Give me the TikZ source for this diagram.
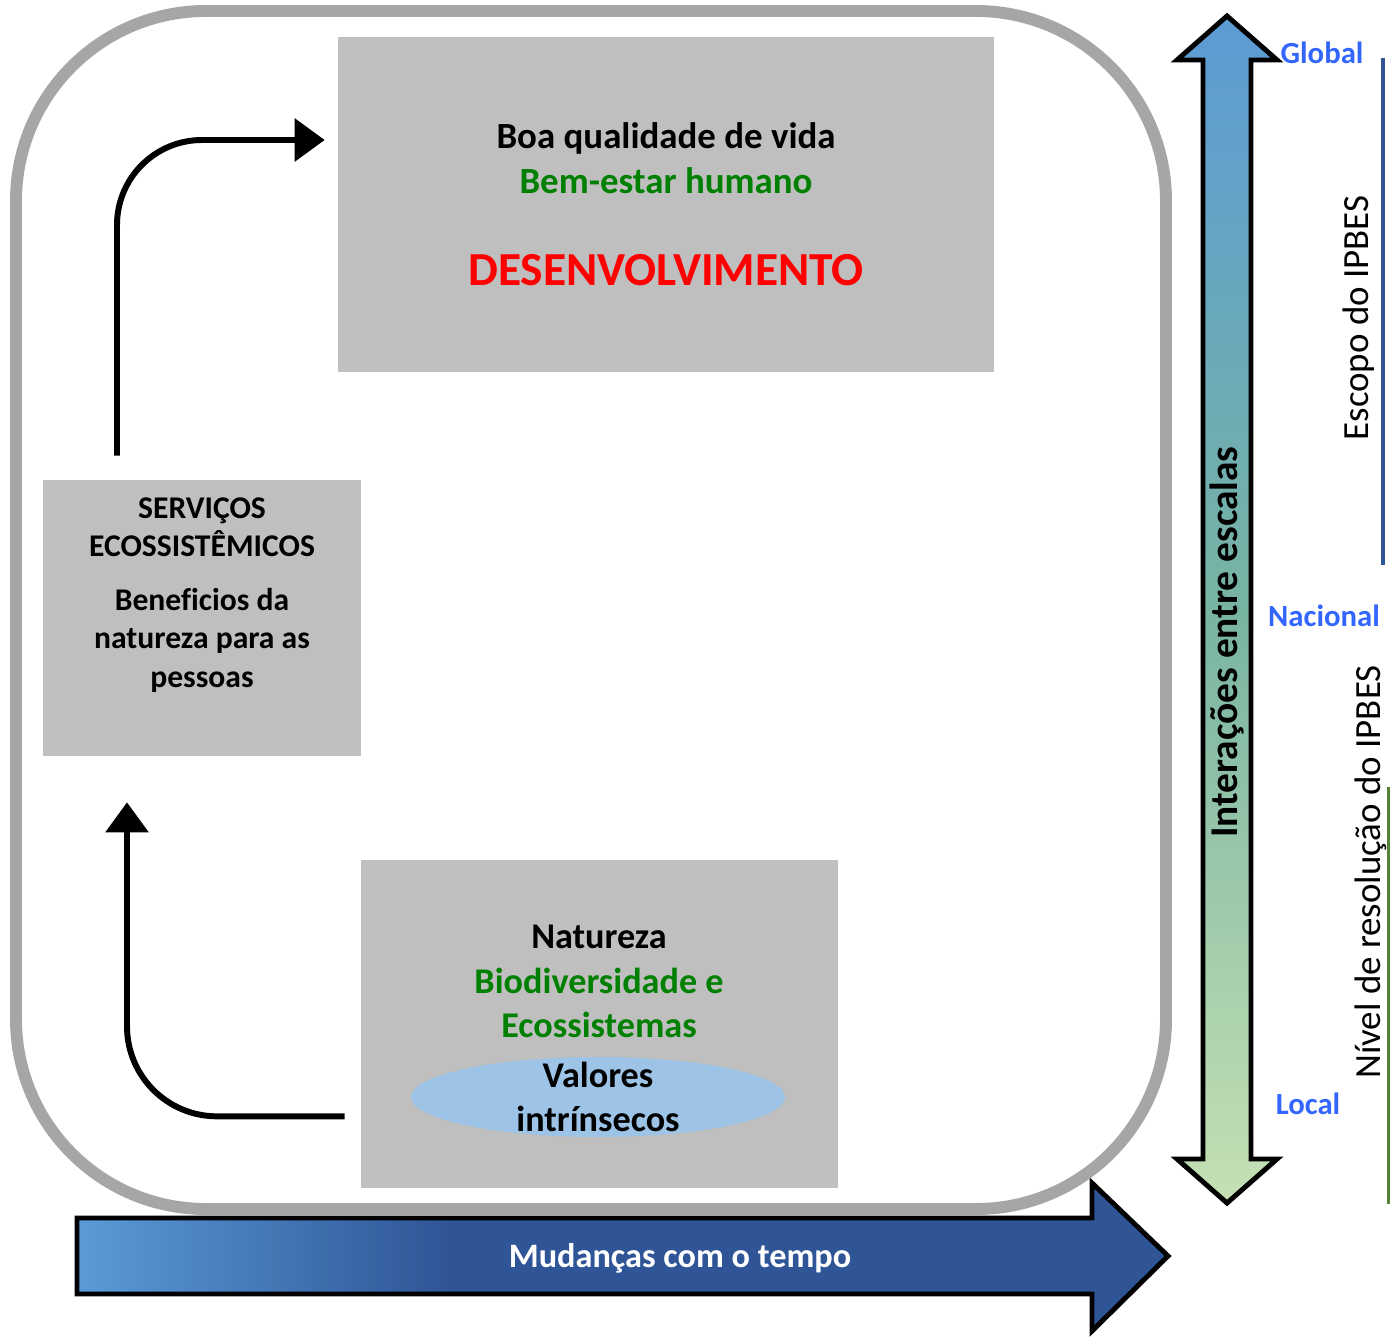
\documentclass[tikz,border=0pt]{standalone}
\usepackage{fontspec}
\setmainfont[Ligatures=CommonOff]{Carlito}
\usetikzlibrary{positioning,shapes.geometric,arrows.meta,calc}

\definecolor{boxgray}{HTML}{BFBFBF}
\definecolor{framegray}{HTML}{A6A6A6}
\definecolor{txtgreen}{HTML}{008000}
\definecolor{ovalblue}{HTML}{9DC3E6}
\definecolor{scaleblue}{HTML}{3366FF}
\definecolor{lightblue}{HTML}{5B9BD5}
\definecolor{darkblue}{HTML}{2F5597}
\definecolor{midteal}{HTML}{78B4A2}
\definecolor{palegreen}{HTML}{C5E0B4}
\definecolor{linegreen}{HTML}{548235}

\pgfdeclarehorizontalshading{timeshade}{100bp}{color(0bp)=(lightblue); color(25bp)=(lightblue); color(42bp)=(darkblue); color(100bp)=(darkblue)}
\pgfdeclareverticalshading{scaleshade}{100bp}{color(0bp)=(palegreen); color(25bp)=(palegreen); color(50bp)=(midteal); color(75bp)=(lightblue); color(100bp)=(lightblue)}

\tikzset{
  panel/.style={fill=boxgray, inner sep=0pt},
  oval/.style={ellipse, fill=ovalblue, minimum width=7.48cm, minimum height=1.6cm, inner sep=0pt},
  boxtext/.style={align=center, inner sep=0pt},
  flow/.style={line width=3.4pt, -{Triangle[length=0.6cm,width=0.84cm]}},
  scalelbl/.style={text=scaleblue, font=\fontsize{17.5}{21}\selectfont\bfseries},
  sidetext/.style={rotate=90, font=\fontsize{21}{25}\selectfont},
}

\begin{document}
\begin{tikzpicture}[x=0.02cm, y=-0.02cm]
    \useasboundingbox (0,0) rectangle (1391,1337);

    % time arrow under the frame
    \shadedraw[shading=timeshade, line width=2.8pt] (77,1218) -- (1092,1218) -- (1092,1183) -- (1168,1256)
        -- (1092,1331) -- (1092,1294) -- (77,1294) -- cycle;
    \node[text=white, font=\fontsize{19.5}{23}\selectfont\bfseries] (time) at (680,1258) {Mudanças com o tempo};

    % frame
    \draw[framegray, line width=6.8pt, rounded corners=3.8cm] (16,11) rectangle (1166,1209);

    % boxes
    \node[panel, minimum width=13.12cm, minimum height=6.7cm] (life) at (666,204.5) {};
    \node[boxtext, font=\fontsize{21}{25.5}\selectfont\bfseries, anchor=north] (lifetxt) at (666,122)
        {Boa qualidade de vida\\ \textcolor{txtgreen}{Bem-estar humano}\\[27.2pt]
         \textcolor{red}{\fontsize{27}{32}\selectfont DESENVOLVIMENTO}};

    \node[panel, minimum width=6.36cm, minimum height=5.52cm] (services) at (202,618) {};
    \node[boxtext, font=\fontsize{18}{22}\selectfont\bfseries, anchor=north] (servtxt) at (202,497)
        {SERVIÇOS\\ECOSSISTÊMICOS\\[8.5pt]Beneficios da\\natureza para as\\pessoas};

    \node[panel, minimum width=9.54cm, minimum height=6.56cm] (nature) at (599.5,1024) {};
    \node[oval] (values) at (598,1097) {};
    \node[boxtext, font=\fontsize{20.6}{25.2}\selectfont\bfseries, anchor=north] (naturetxt) at (599,925)
        {Natureza\\ \textcolor{txtgreen}{Biodiversidade e}\\ \textcolor{txtgreen}{Ecossistemas}};
    \node[boxtext, font=\fontsize{20.6}{25.2}\selectfont\bfseries] (valuestxt) at (values) {Valores\\intrínsecos};

    % flows
    \draw[flow, rounded corners=1.8cm] ($(nature.south west)+(-16,-72)$) -| ($(services.south)+(-75,46)$);
    \draw[flow, rounded corners=1.7cm] ($(services.north)+(-85,-24)$) |- ($(life.west)+(-13,-64.5)$);

    % scale arrow
    \shadedraw[shading=scaleshade, line width=2.8pt] (1227,16) -- (1277,60) -- (1251,60) -- (1251,1159)
        -- (1277,1159) -- (1227,1203) -- (1177,1159) -- (1203,1159) -- (1203,60) -- (1177,60) -- cycle;
    \node[rotate=90, font=\fontsize{22.4}{26}\selectfont\bfseries] (cross) at (1227,642) {Interações entre escalas};

    \node[scalelbl] (global) at (1322,53) {Global};
    \node[scalelbl] (national) at (1324,616) {Nacional};
    \node[scalelbl] (local) at (1308,1104) {Local};

    \node[sidetext] (scope) at (1359,318) {Escopo do IPBES};
    \node[sidetext] (resolution) at (1371,872) {Nível de resolução do IPBES};
    \draw[darkblue, line width=2.8pt] (1383,58) -- (1383,565);
    \draw[linegreen, line width=1.7pt] (1388,787) -- (1388,1204);
\end{tikzpicture}
\end{document}
